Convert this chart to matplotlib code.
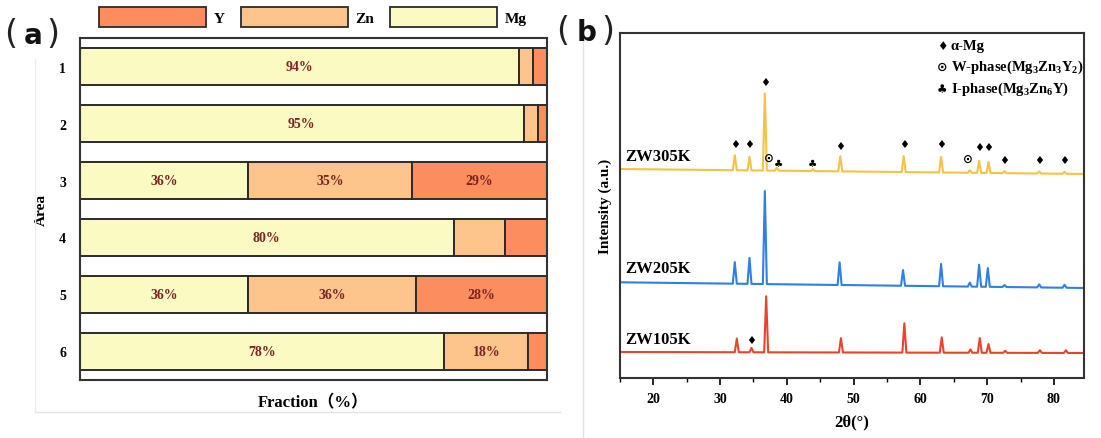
import numpy as np
import matplotlib.pyplot as plt
from matplotlib.patches import Patch
from matplotlib.lines import Line2D
from matplotlib.ticker import MultipleLocator

plt.rcParams['font.family'] = ['Liberation Serif', 'DejaVu Sans']
plt.rcParams['font.weight'] = 'bold'
plt.rcParams['mathtext.fontset'] = 'custom'
plt.rcParams['mathtext.rm'] = 'Liberation Serif:bold'
plt.rcParams['mathtext.bf'] = 'Liberation Serif:bold'
plt.rcParams['mathtext.it'] = 'Liberation Serif:bold:italic'

# (a) fraction per area
areas = ['1', '2', '3', '4', '5', '6']
frac_mg = [94, 95, 36, 80, 36, 78]
frac_zn = [3, 3, 35, 11, 36, 18]
frac_y = [3, 2, 29, 9, 28, 4]
lbl_mg = ['94%', '95%', '36%', '80%', '36%', '78%']
lbl_zn = ['', '', '35%', '', '36%', '18%']
lbl_y = ['', '', '29%', '', '28%', '']

# (b) XRD patterns (intensity in a.u.)
samples = ['ZW305K', 'ZW205K', 'ZW105K']
baseline_305 = [209, 204]
baseline_205 = [95.7, 90]
baseline_105 = [26, 25]
pos_305 = [32.2, 34.4, 36.7, 38.5, 43.9, 48.0, 57.5, 63.1, 67.4, 68.8, 70.2, 72.6, 77.8, 81.6]
hgt_305 = [15, 13.5, 77, 3, 2, 15, 16, 15.5, 2.5, 12, 11, 2, 2, 2]
pos_205 = [32.2, 34.4, 36.7, 47.9, 57.4, 63.1, 67.4, 68.8, 70.1, 72.6, 77.8, 81.6]
hgt_205 = [21.6, 26, 93, 22.7, 15.7, 22.3, 4, 22, 18.7, 2, 3, 3]
pos_105 = [32.5, 34.7, 36.9, 48.1, 57.6, 63.2, 67.5, 68.9, 70.2, 72.7, 77.9, 81.8]
hgt_105 = [13.7, 4.3, 56, 14.3, 29.3, 15.3, 3.3, 14.7, 8.7, 2, 2.7, 2.7]

# phase marks
mg_ang = [32.2, 34.4, 36.7, 48.0, 57.5, 63.1, 68.8, 70.2, 72.6, 77.8, 81.6, 34.7]
mg_int = [234, 234, 296, 232, 234, 234, 231, 231, 218, 218, 218, 38]
w_ang = [37.3, 67.1]
w_int = [221, 220]
i_ang = [38.7, 43.9]
i_int = [215, 215]

c_mg, c_zn, c_y = '#FAFAC2', '#FDC48C', '#FB8D5E'
txt_col = '#7B2323'

fig = plt.figure(figsize=(11.01, 4.39), dpi=100)

# ---------- (a) ----------
ax1 = fig.add_axes([0.07266, 0.13212, 0.42416, 0.77904])
yy = np.arange(1, len(areas) + 1)
h = 0.657
ax1.barh(yy, frac_mg, height=h, color=c_mg, edgecolor='#2b2b2b', linewidth=1.4)
ax1.barh(yy, frac_zn, left=frac_mg, height=h, color=c_zn, edgecolor='#2b2b2b', linewidth=1.4)
left_y = np.array(frac_mg) + np.array(frac_zn)
ax1.barh(yy, frac_y, left=left_y, height=h, color=c_y, edgecolor='#2b2b2b', linewidth=1.4)

for i in range(len(areas)):
    for lbl, l0, w in [(lbl_mg[i], 0, frac_mg[i]), (lbl_zn[i], frac_mg[i], frac_zn[i]),
                       (lbl_y[i], left_y[i], frac_y[i])]:
        if lbl:
            ax1.text(l0 + w / 2, yy[i], lbl, ha='center', va='center',
                     fontsize=10, color=txt_col, fontweight='bold')

ax1.set_xlim(0, 100)
ax1.set_ylim(6.5, 0.5)
ax1.set_xticks([])
ax1.set_yticks(yy)
ax1.set_yticklabels(areas, fontsize=10, fontweight='bold')
ax1.tick_params(axis='y', length=0, pad=10)
ax1.set_ylabel('Area', fontsize=11, fontweight='bold', labelpad=8)
ax1.set_xlabel('Fraction（%）', fontsize=12, fontweight='bold', labelpad=10,
               family=['Liberation Serif', 'Noto Sans CJK SC'])
for s in ax1.spines.values():
    s.set_linewidth(1.5)
    s.set_color('#333333')

handles = [Patch(facecolor=c_y, edgecolor='#2b2b2b', linewidth=1.3, label='Y'),
           Patch(facecolor=c_zn, edgecolor='#2b2b2b', linewidth=1.3, label='Zn'),
           Patch(facecolor=c_mg, edgecolor='#2b2b2b', linewidth=1.3, label='Mg')]
fig.legend(handles=handles, loc='center', bbox_to_anchor=(313 / 1101, 1 - 18 / 439),
           ncol=3, frameon=False, fontsize=11, handlelength=7.0, handleheight=1.65,
           handletextpad=0.5, columnspacing=1.05, borderpad=0)


def panel_tag(letter, xl, xm, xr, base):
    yb = 1 - base / 439
    fig.text(xl / 1101, yb, '(', ha='center', va='baseline', fontsize=24,
             fontweight='normal', family='DejaVu Sans', color='#222222')
    fig.text(xm / 1101, yb, letter, ha='center', va='baseline', fontsize=20,
             fontweight='bold', family='DejaVu Sans', color='#111111')
    fig.text(xr / 1101, yb, ')', ha='center', va='baseline', fontsize=24,
             fontweight='normal', family='DejaVu Sans', color='#222222')


panel_tag('a', 11, 33, 53, 44)

# ---------- (b) ----------
ax2 = fig.add_axes([0.5631, 0.1367, 0.4214, 0.7859])


def pattern(pos, hgt, base):
    xs = [15.0]
    dy = [0.0]
    for p, hh in zip(pos, hgt):
        xs += [p - 0.3, p, p + 0.3]
        dy += [0.0, hh, 0.0]
    xs.append(84.5)
    dy.append(0.0)
    xs = np.array(xs)
    return xs, np.interp(xs, [15.0, 84.5], base) + np.array(dy)


for pos, hgt, base, col in [(pos_305, hgt_305, baseline_305, '#F6C244'),
                            (pos_205, hgt_205, baseline_205, '#2E80E6'),
                            (pos_105, hgt_105, baseline_105, '#E8442C')]:
    x, y = pattern(pos, hgt, base)
    ax2.plot(x, y, color=col, lw=1.5)

for a, v in zip(mg_ang, mg_int):
    ax2.text(a, v, '♦', ha='center', va='center', fontsize=8, family='DejaVu Sans')
for a, v in zip(w_ang, w_int):
    ax2.text(a, v, '⊙', ha='center', va='center', fontsize=8.5, family='DejaVu Sans')
for a, v in zip(i_ang, i_int):
    ax2.text(a, v, '♣', ha='center', va='center', fontsize=7.5, family='DejaVu Sans')

for name, v in zip(samples, [222, 109.5, 38.5]):
    ax2.text(15.8, v, name, ha='left', va='center', fontsize=12, fontweight='bold')

leg_sym = ['♦', '⊙', '♣']
leg_txt = ['α-Mg', 'W-phase(Mg$_3$Zn$_3$Y$_2$)', 'I-phase(Mg$_3$Zn$_6$Y)']
for k, (sy, tx) in enumerate(zip(leg_sym, leg_txt)):
    yk = [0.965, 0.902, 0.840][k]
    ax2.text(0.694, yk, sy, transform=ax2.transAxes, ha='center', va='center',
             fontsize=8.5 if k != 1 else 9, family='DejaVu Sans')
    ax2.text(0.713, yk, tx, transform=ax2.transAxes, ha='left', va='center',
             fontsize=10.5, fontweight='bold')

ax2.set_xlim(15, 84.5)
ax2.set_ylim(0, 345)
ax2.set_yticks([])
ax2.xaxis.set_major_locator(MultipleLocator(10))
ax2.xaxis.set_minor_locator(MultipleLocator(5))
ax2.tick_params(axis='x', which='major', direction='out', length=5, width=1.2, labelsize=10, pad=5)
ax2.tick_params(axis='x', which='minor', direction='out', length=3, width=1.0)
for t in ax2.get_xticklabels():
    t.set_fontweight('bold')
ax2.set_xlabel('2θ(°)', fontsize=12, fontweight='bold', labelpad=6)
ax2.set_ylabel('Intensity (a.u.)', fontsize=11, fontweight='bold', labelpad=6)
for s in ax2.spines.values():
    s.set_linewidth(1.5)
    s.set_color('#333333')

panel_tag('b', 563, 587, 608, 41)

# faint panel borders from the original figure
fig.add_artist(Line2D([35 / 1101, 560 / 1101], [1 - 413 / 439, 1 - 413 / 439],
                      color='#e3e3e3', lw=1))
fig.add_artist(Line2D([35 / 1101, 35 / 1101], [1 - 413 / 439, 1 - 60 / 439],
                      color='#ececec', lw=1))
fig.add_artist(Line2D([583 / 1101, 583 / 1101], [0, 1 - 40 / 439],
                      color='#e3e3e3', lw=1))

fig.savefig('out.png', dpi=100)
